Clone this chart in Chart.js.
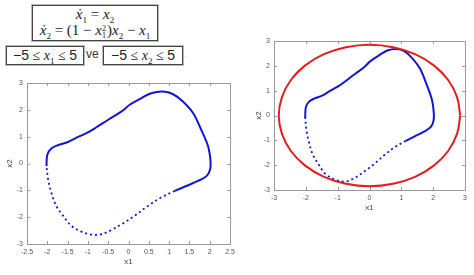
<!DOCTYPE html>
<html>
<head>
<meta charset="utf-8">
<script src="https://cdn.jsdelivr.net/npm/chart.js@4.4.1/dist/chart.umd.min.js"></script>
<style>
  html,body{margin:0;padding:0;background:#fff;}
  body{width:474px;height:275px;position:relative;overflow:hidden;}
  .box{position:absolute;border:1px solid #444;box-shadow:0 0 0 1px #bbb;font-family:"Liberation Serif","DejaVu Serif",serif;color:#222;}
  .eq{position:absolute;left:0;width:100%;text-align:center;font-size:15px;line-height:15px;white-space:nowrap;}
  i{font-style:italic;}
  sub,sup{font-size:9px;line-height:0;}
  .ss{display:inline-block;vertical-align:-3px;font-size:8px;line-height:7px;text-align:left;margin-right:1px;}
  .lim{position:absolute;font-size:14px;line-height:16px;white-space:nowrap;text-align:center;}
  .ve{position:absolute;font-family:"Liberation Sans",Arial,sans-serif;font-size:12px;color:#333;}
  canvas{position:absolute;}
</style>
</head>
<body>
<div class="box" style="left:32px;top:5px;width:124px;height:34px;">
  <div class="eq" style="top:1px;"><i>ẋ</i><sub>1</sub> = <i>x</i><sub>2</sub></div>
  <div class="eq" style="top:17px;"><i>ẋ</i><sub>2</sub> = (1 − <i>x</i><span class="ss">2<br>1</span>)<i>x</i><sub>2</sub> − <i>x</i><sub>1</sub></div>
</div>
<div class="box lim" style="left:6px;top:46px;width:76px;height:17px;"><span style="font-family:'Liberation Sans',sans-serif">−5</span> ≤ <i>x</i><sub>1</sub> ≤ <span style="font-family:'Liberation Sans',sans-serif">5</span></div>
<div class="ve" style="left:86px;top:47px;">ve</div>
<div class="box lim" style="left:103px;top:46px;width:78px;height:17px;"><span style="font-family:'Liberation Sans',sans-serif">−5</span> ≤ <i>x</i><sub>2</sub> ≤ <span style="font-family:'Liberation Sans',sans-serif">5</span></div>
<div class="ve" style="left:185px;top:49px;font-size:9px;color:#f0c080;">.</div>

<canvas id="c1" width="240" height="205" style="left:0;top:70px;width:240px;height:205px;"></canvas>
<canvas id="c2" width="224" height="190" style="left:250px;top:30px;width:224px;height:190px;"></canvas>

<script>
// Limit cycle, solid (densely sampled) part, clockwise from leftmost point
const solidX = [-2.02,-2.00,-1.90,-1.74,-1.49,-1.24,-1.00,-0.79,-0.50,-0.17,0.03,0.31,0.56,0.85,1.09,1.34,1.59,1.79,1.96,2.02,2.01,1.92,1.71,1.42,1.14];
const solidY = [-0.10,0.33,0.56,0.68,0.80,0.99,1.16,1.35,1.63,1.94,2.19,2.43,2.62,2.68,2.59,2.31,1.88,1.26,0.64,0.09,-0.22,-0.47,-0.65,-0.84,-1.02];
// Limit cycle, sparse (dotted) part
const dotX = [1.14,0.80,0.48,0.15,-0.02,-0.17,-0.46,-0.71,-0.91,-1.16,-1.41,-1.61,-1.78,-1.90,-1.98,-2.02];
const dotY = [-1.02,-1.27,-1.58,-1.95,-2.12,-2.26,-2.51,-2.65,-2.65,-2.54,-2.32,-1.95,-1.58,-1.09,-0.59,-0.10];
// Red bounding ellipse (right plot)
const circX = [2.85,2.75,2.47,2.02,1.43,0.74,0.00,-0.74,-1.43,-2.02,-2.47,-2.75,-2.85,-2.75,-2.47,-2.02,-1.43,-0.74,0.00,0.74,1.43,2.02,2.47,2.75,2.85];
const circY = [0.00,0.74,1.43,2.02,2.47,2.75,2.85,2.75,2.47,2.02,1.43,0.74,0.00,-0.74,-1.43,-2.02,-2.47,-2.75,-2.85,-2.75,-2.47,-2.02,-1.43,-0.74,0.00];
// Tick values
const leftXTicks = [-2.5,-2,-1.5,-1,-0.5,0,0.5,1,1.5,2,2.5];
const leftYTicks = [-3,-2,-1,0,1,2,3];
const rightXTicks = [-3,-2,-1,0,1,2,3];
const rightYTicks = [-3,-2,-1,0,1,2,3];

const zip = (xs, ys) => xs.map((x, i) => ({x, y: ys[i]}));
const BLUE = '#1414d2';
const tickFont = {family: '"Liberation Sans", Arial, sans-serif', size: 7};
const titleFont = {family: '"Liberation Sans", Arial, sans-serif', size: 8};

const boxPlugin = {
  id: 'mbox',
  afterDraw(chart) {
    const {ctx, chartArea: a, scales: {x, y}} = chart;
    const xt = chart.options.plugins.mbox.xt, yt = chart.options.plugins.mbox.yt;
    ctx.save();
    ctx.strokeStyle = '#9a9a9a';
    ctx.lineWidth = 1;
    ctx.strokeRect(Math.round(a.left) + 0.5, Math.round(a.top) + 0.5, Math.round(a.right - a.left), Math.round(a.bottom - a.top));
    ctx.beginPath();
    xt.forEach(v => {
      const p = Math.round(x.getPixelForValue(v)) + 0.5;
      ctx.moveTo(p, a.bottom); ctx.lineTo(p, a.bottom - 3);
      ctx.moveTo(p, a.top); ctx.lineTo(p, a.top + 3);
    });
    yt.forEach(v => {
      const p = Math.round(y.getPixelForValue(v)) + 0.5;
      ctx.moveTo(a.left, p); ctx.lineTo(a.left + 3, p);
      ctx.moveTo(a.right, p); ctx.lineTo(a.right - 3, p);
    });
    ctx.stroke();
    ctx.restore();
  }
};

function axis(min, max, ticksArr, title, isY, fitSize) {
  return {
    type: 'linear', min, max,
    afterBuildTicks: s => { s.ticks = ticksArr.map(v => ({value: v})); },
    afterFit: s => { if (isY) s.width = fitSize; else s.height = fitSize; },
    grid: {display: false, drawTicks: false},
    border: {display: false},
    ticks: {font: tickFont, color: '#555', padding: 4, autoSkip: false, maxRotation: 0,
      callback: v => String(v)},
    title: {display: true, text: title, font: titleFont, color: '#444', padding: 0}
  };
}

function make(id, datasets, xr, yr, xt, yt, pad, yw, xh) {
  new Chart(document.getElementById(id), {
    type: 'scatter',
    data: {datasets},
    options: {
      responsive: false, animation: false, events: [],
      layout: {padding: pad},
      plugins: {legend: {display: false}, tooltip: {enabled: false}, mbox: {xt, yt}},
      scales: {
        x: axis(xr[0], xr[1], xt, 'x1', false, xh),
        y: axis(yr[0], yr[1], yt, 'x2', true, yw)
      }
    },
    plugins: [boxPlugin]
  });
}

const cycleSets = () => [
  {data: zip(solidX, solidY), showLine: true, borderColor: BLUE, borderWidth: 2, pointRadius: 0, tension: 0.35, fill: false},
  {data: zip(dotX, dotY), showLine: true, borderColor: BLUE, borderWidth: 1.8, borderDash: [2, 3], pointRadius: 0, tension: 0.35, fill: false}
];

make('c1', cycleSets(), [-2.5, 2.5], [-3, 3], leftXTicks, leftYTicks,
  {top: 13, right: 10, left: 5, bottom: 8}, 22, 23);

make('c2', [
  {data: zip(circX, circY), showLine: true, borderColor: '#e01e1e', borderWidth: 2, pointRadius: 0, tension: 0.4, fill: false},
  ...cycleSets()
], [-3, 3], [-3, 3], rightXTicks, rightYTicks,
  {top: 11, right: 9, left: 4, bottom: 7}, 20, 23);
</script>
</body>
</html>
